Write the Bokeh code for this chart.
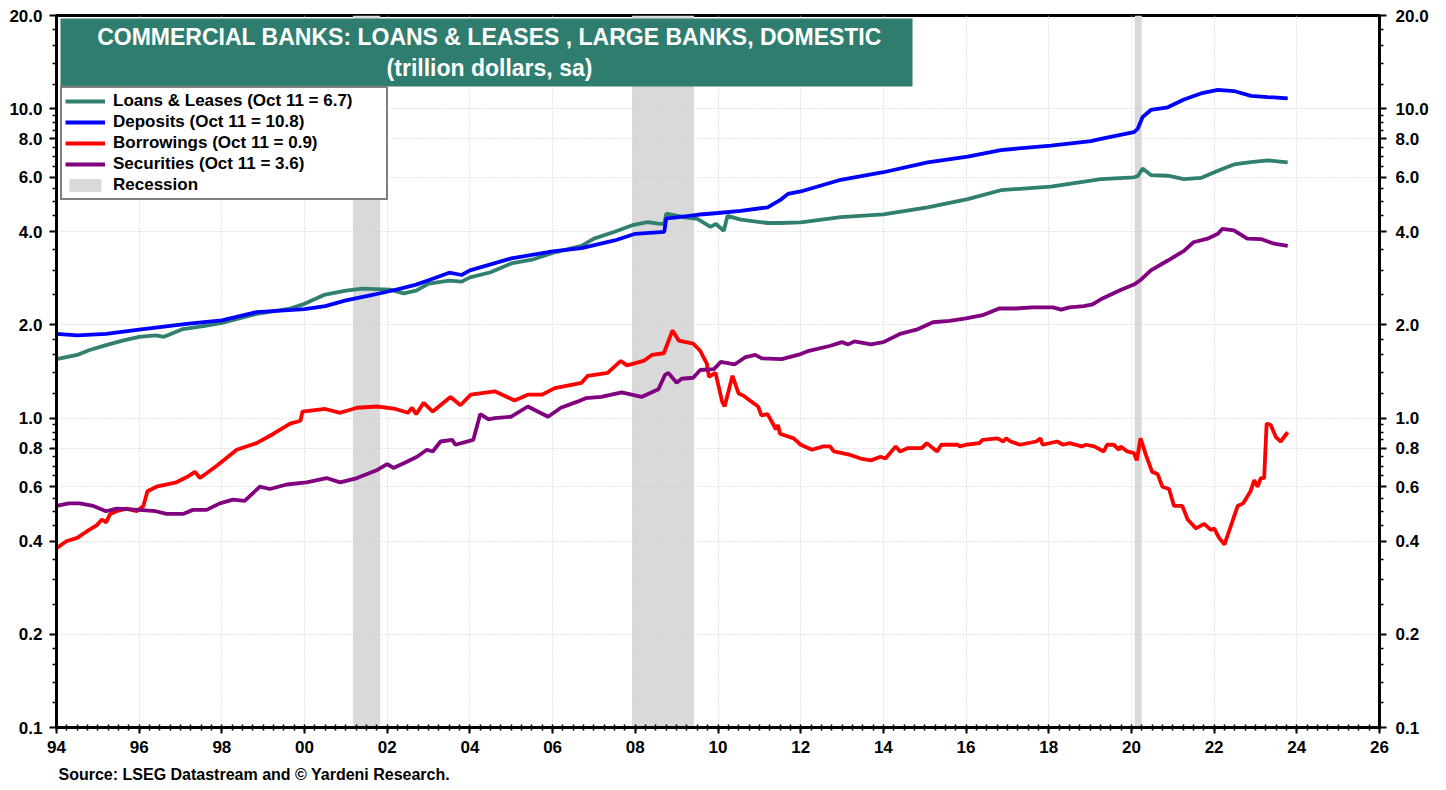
from bokeh.plotting import figure
from bokeh.models import (Range1d, FixedTicker, LogAxis, PrintfTickFormatter, Legend,
                          LegendItem, BoxAnnotation, Label, Title, ColumnDataSource)
from bokeh.embed import file_html
from bokeh.resources import INLINE

# ---------------- data ----------------
loans_t = [1994.0, 1994.5, 1994.8, 1995.2, 1995.6, 1996.0, 1996.4, 1996.6, 1997.06, 1997.63,
           1998.0, 1998.84, 1999.65, 2000.0, 2000.47, 2001.0, 2001.4, 2002.07, 2002.4, 2002.7,
           2003.0, 2003.5, 2003.8, 2004.0, 2004.5, 2005.0, 2005.5, 2006.0, 2006.7, 2007.0,
           2007.5, 2007.93, 2008.3, 2008.55, 2008.7, 2008.75, 2009.2, 2009.5, 2009.82, 2009.95,
           2010.14, 2010.23, 2010.55, 2011.2, 2011.5, 2012.0, 2012.97, 2014.0, 2015.07, 2016.04,
           2016.84, 2018.05, 2019.02, 2019.26, 2020.06, 2020.15, 2020.27, 2020.47, 2020.88,
           2021.27, 2021.68, 2022.09, 2022.48, 2022.89, 2023.3, 2023.78]
loans = [1.55, 1.60, 1.66, 1.72, 1.78, 1.83, 1.85, 1.83, 1.94, 1.99,
         2.03, 2.17, 2.26, 2.34, 2.50, 2.58, 2.62, 2.60, 2.53, 2.58,
         2.72, 2.78, 2.76, 2.85, 2.96, 3.16, 3.25, 3.42, 3.60, 3.80,
         4.00, 4.20, 4.30, 4.25, 4.24, 4.58, 4.45, 4.40, 4.15, 4.24,
         4.03, 4.50, 4.38, 4.27, 4.27, 4.29, 4.46, 4.55, 4.80, 5.10,
         5.45, 5.60, 5.85, 5.92, 6.00, 6.05, 6.40, 6.10, 6.07,
         5.92, 5.97, 6.30, 6.60, 6.72, 6.80, 6.70]

deposits_t = [1994.0, 1994.5, 1995.2, 1996.0, 1997.2, 1998.0, 1998.84, 2000.0, 2000.5, 2001.0,
              2001.5, 2002.0, 2002.32, 2002.7, 2003.0, 2003.5, 2003.8, 2004.0, 2005.0, 2006.0,
              2006.7, 2007.5, 2008.0, 2008.7, 2008.75, 2009.0, 2009.5, 2010.0, 2010.55, 2011.2,
              2011.5, 2011.69, 2012.0, 2012.97, 2014.0, 2015.07, 2016.04, 2016.84, 2018.05,
              2019.02, 2019.26, 2020.06, 2020.15, 2020.27, 2020.47, 2020.88, 2021.27, 2021.68,
              2022.09, 2022.48, 2022.89, 2023.3, 2023.78]
deposits = [1.87, 1.85, 1.87, 1.93, 2.02, 2.07, 2.20, 2.25, 2.30, 2.40,
            2.48, 2.56, 2.62, 2.70, 2.79, 2.95, 2.90, 3.00, 3.28, 3.46,
            3.54, 3.75, 3.94, 4.00, 4.42, 4.45, 4.54, 4.60, 4.67, 4.80,
            5.06, 5.30, 5.40, 5.89, 6.23, 6.70, 7.00, 7.35, 7.60,
            7.85, 7.98, 8.40, 8.60, 9.40, 9.90, 10.1, 10.7, 11.2,
            11.5, 11.4, 11.0, 10.9, 10.8]

borrow_t = [1994.0, 1994.24, 1994.5, 1994.73, 1994.97, 1995.1, 1995.2, 1995.3, 1995.45, 1995.7,
            1995.94, 1996.1, 1996.2, 1996.42, 1996.9, 1997.2, 1997.35, 1997.47, 1997.87, 1998.36,
            1998.84, 1999.25, 1999.65, 1999.9, 1999.95, 2000.5, 2000.86, 2001.27, 2001.76, 2002.2,
            2002.5, 2002.6, 2002.7, 2002.88, 2003.1, 2003.53, 2003.77, 2004.02, 2004.6, 2005.08,
            2005.4, 2005.74, 2005.9, 2006.05, 2006.7, 2006.85, 2007.33, 2007.65, 2007.8, 2008.2,
            2008.4, 2008.69, 2008.9, 2009.05, 2009.4, 2009.57, 2009.73, 2009.78, 2009.94, 2010.1,
            2010.16, 2010.35, 2010.5, 2010.62, 2010.77, 2010.97, 2011.05, 2011.2, 2011.4, 2011.45,
            2011.5, 2011.83, 2012.0, 2012.27, 2012.55, 2012.71, 2012.8, 2013.2, 2013.45, 2013.7,
            2013.93, 2014.05, 2014.3, 2014.4, 2014.6, 2014.93, 2015.05, 2015.3, 2015.4, 2015.8,
            2015.85, 2016.0, 2016.32, 2016.4, 2016.76, 2016.9, 2016.97, 2017.08, 2017.3, 2017.7,
            2017.8, 2017.85, 2018.2, 2018.35, 2018.5, 2018.8, 2018.9, 2019.1, 2019.33, 2019.41,
            2019.57, 2019.7, 2019.74, 2019.9, 2020.06, 2020.13, 2020.22, 2020.35, 2020.5, 2020.63,
            2020.75, 2020.91, 2021.03, 2021.23, 2021.36, 2021.56, 2021.76, 2021.92, 2022.0, 2022.12,
            2022.25, 2022.57, 2022.7, 2022.88, 2022.97, 2023.05, 2023.13, 2023.21, 2023.27, 2023.37,
            2023.49, 2023.61, 2023.78]
borrowings = [0.38, 0.40, 0.41, 0.43, 0.45, 0.47, 0.46, 0.49, 0.50, 0.51,
              0.50, 0.52, 0.58, 0.60, 0.62, 0.65, 0.67, 0.64, 0.70, 0.79,
              0.83, 0.89, 0.96, 0.98, 1.05, 1.07, 1.04, 1.08, 1.09, 1.07,
              1.04, 1.08, 1.03, 1.12, 1.05, 1.17, 1.10, 1.19, 1.22, 1.14,
              1.19, 1.19, 1.22, 1.25, 1.30, 1.37, 1.40, 1.53, 1.48, 1.53,
              1.60, 1.62, 1.92, 1.78, 1.74, 1.65, 1.50, 1.36, 1.40, 1.13,
              1.09, 1.37, 1.20, 1.18, 1.14, 1.09, 1.02, 1.03, 0.92, 0.95,
              0.89, 0.86, 0.82, 0.79, 0.81, 0.81, 0.78, 0.76, 0.74, 0.73,
              0.75, 0.74, 0.81, 0.78, 0.80, 0.80, 0.83, 0.78, 0.82, 0.82,
              0.81, 0.82, 0.83, 0.85, 0.86, 0.84, 0.86, 0.84, 0.82, 0.84,
              0.86, 0.82, 0.84, 0.82, 0.83, 0.81, 0.82, 0.81, 0.78, 0.82,
              0.82, 0.79, 0.81, 0.78, 0.77, 0.73, 0.86, 0.76, 0.67, 0.66,
              0.60, 0.59, 0.52, 0.52, 0.47, 0.44, 0.455, 0.435, 0.44, 0.41,
              0.39, 0.52, 0.53, 0.58, 0.63, 0.60, 0.64, 0.64, 0.96, 0.95,
              0.87, 0.84, 0.90]

secur_t = [1994.0, 1994.3, 1994.56, 1994.89, 1995.2, 1995.45, 1996.0, 1996.4, 1996.66, 1997.06,
           1997.3, 1997.63, 1997.95, 1998.27, 1998.55, 1998.92, 1999.16, 1999.57, 2000.05, 2000.53,
           2000.86, 2001.27, 2001.76, 2002.0, 2002.15, 2002.45, 2002.72, 2002.96, 2003.1, 2003.29,
           2003.57, 2003.65, 2004.08, 2004.25, 2004.45, 2004.6, 2005.0, 2005.4, 2005.89, 2006.2,
           2006.6, 2006.8, 2007.18, 2007.67, 2008.15, 2008.56, 2008.72, 2008.8, 2009.0, 2009.12,
           2009.4, 2009.57, 2009.9, 2010.07, 2010.4, 2010.65, 2010.9, 2011.06, 2011.54, 2012.0,
           2012.2, 2012.7, 2013.0, 2013.15, 2013.3, 2013.7, 2014.0, 2014.4, 2014.8, 2015.2,
           2015.6, 2016.0, 2016.4, 2016.8, 2017.2, 2017.6, 2018.1, 2018.3, 2018.5, 2018.85,
           2019.06, 2019.26, 2019.75, 2020.06, 2020.23, 2020.47, 2020.88, 2021.27, 2021.5, 2021.84,
           2022.09, 2022.2, 2022.48, 2022.8, 2023.13, 2023.45, 2023.78]
securities = [0.52, 0.53, 0.53, 0.52, 0.50, 0.51, 0.505, 0.50, 0.49, 0.49,
              0.505, 0.505, 0.53, 0.545, 0.54, 0.60, 0.59, 0.61, 0.62, 0.64,
              0.62, 0.64, 0.68, 0.71, 0.69, 0.72, 0.75, 0.79, 0.78, 0.84,
              0.85, 0.82, 0.85, 1.03, 0.99, 1.00, 1.01, 1.09, 1.01, 1.08,
              1.13, 1.16, 1.17, 1.21, 1.17, 1.24, 1.38, 1.40, 1.30, 1.34,
              1.35, 1.43, 1.44, 1.52, 1.49, 1.57, 1.60, 1.56, 1.55, 1.61,
              1.65, 1.71, 1.76, 1.73, 1.77, 1.73, 1.76, 1.87, 1.93, 2.04,
              2.06, 2.10, 2.15, 2.26, 2.26, 2.28, 2.28, 2.24, 2.28, 2.30,
              2.33, 2.42, 2.60, 2.70, 2.80, 3.00, 3.23, 3.47, 3.70, 3.80,
              3.94, 4.09, 4.04, 3.80, 3.79, 3.66, 3.60]

rec_start = [2001.17, 2007.92, 2020.08]
rec_end = [2001.83, 2009.42, 2020.25]

x_ticks = list(range(1994, 2027, 2))
x_tick_labels = ["94", "96", "98", "00", "02", "04", "06", "08", "10", "12", "14",
                 "16", "18", "20", "22", "24", "26"]
y_major = [0.1, 0.2, 0.4, 0.6, 0.8, 1.0, 2.0, 4.0, 6.0, 8.0, 10.0, 20.0]
y_minor = [0.12, 0.14, 0.16, 0.18, 0.25, 0.3, 0.35, 0.45, 0.5, 0.55, 0.65, 0.7, 0.75,
           0.85, 0.9, 0.95, 1.2, 1.4, 1.6, 1.8, 2.5, 3.0, 3.5, 4.5, 5.0, 5.5, 6.5, 7.0,
           7.5, 8.5, 9.0, 9.5, 12, 14, 16, 18]

legend_labels = ["Loans & Leases (Oct 11 = 6.7)", "Deposits (Oct 11 = 10.8)",
                 "Borrowings (Oct 11 = 0.9)", "Securities (Oct 11 = 3.6)", "Recession"]
title_line1 = "COMMERCIAL BANKS: LOANS & LEASES , LARGE BANKS, DOMESTIC"
title_line2 = "(trillion dollars, sa)"
source_text = "Source: LSEG Datastream and \u00a9 Yardeni Research."

# ---------------- styles ----------------
FONT = "Liberation Sans"
TEAL = "#2F7D6F"
C_LOANS = "#31806F"
C_DEP = "#0000FF"
C_BOR = "#FF0000"
C_SEC = "#800080"
REC = "#D9D9D9"

p = figure(frame_width=1323, frame_height=712, y_axis_type="log",
           x_range=Range1d(1994, 2026), y_range=Range1d(0.1, 20),
           output_backend="svg", toolbar_location=None,
           min_border_left=56, min_border_right=52, min_border_top=15, min_border_bottom=60,
           background_fill_color="white", border_fill_color="white")

p.outline_line_color = "black"
p.outline_line_width = 3

# recessions
rec_src = ColumnDataSource(dict(left=rec_start, right=rec_end,
                                bottom=[y_major[0]] * len(rec_start),
                                top=[y_major[-1]] * len(rec_start)))
r_rec = p.quad(left="left", right="right", bottom="bottom", top="top", source=rec_src,
               fill_color=REC, line_color=None, level="underlay")

# series
lw = 3.8
r_loans = p.line(loans_t, loans, line_color=C_LOANS, line_width=lw)
r_dep = p.line(deposits_t, deposits, line_color=C_DEP, line_width=lw)
r_bor = p.line(borrow_t, borrowings, line_color=C_BOR, line_width=lw)
r_sec = p.line(secur_t, securities, line_color=C_SEC, line_width=lw)

# axes
xticker = FixedTicker(ticks=x_ticks, minor_ticks=[1994 + 0.25 * i for i in range(129)])
yticker = FixedTicker(ticks=y_major, minor_ticks=y_minor)

xa = p.xaxis[0]
xa.ticker = xticker
xa.major_label_overrides = {t: l for t, l in zip(x_ticks, x_tick_labels)}
ya = p.yaxis[0]
ya.ticker = yticker
ya.formatter = PrintfTickFormatter(format="%.1f")

ra = LogAxis(ticker=yticker, formatter=PrintfTickFormatter(format="%.1f"))
p.add_layout(ra, "right")

for ax in [xa, ya, ra]:
    ax.axis_line_color = "black"
    ax.axis_line_width = 3
    ax.major_tick_line_color = "black"
    ax.major_tick_line_width = 2
    ax.minor_tick_line_color = "black"
    ax.minor_tick_line_width = 1.5
    ax.major_tick_in = 0
    ax.major_tick_out = 7
    ax.minor_tick_in = 0
    ax.minor_tick_out = 4
    ax.major_label_text_font = FONT
    ax.major_label_text_font_style = "bold"
    ax.major_label_text_font_size = "17px"
    ax.major_label_text_color = "black"

xa.major_tick_out = 6
xa.minor_tick_in = 3
xa.minor_tick_out = 3
xa.major_label_standoff = 7
ya.major_label_standoff = 7
ra.major_label_standoff = 9

# grid
p.xgrid.ticker = FixedTicker(ticks=x_ticks)
p.ygrid.ticker = FixedTicker(ticks=y_major)
for g in [p.xgrid, p.ygrid]:
    g.grid_line_color = "#CDCDCD"
    g.grid_line_dash = "1 2"
    g.grid_line_width = 1

# title box
box = BoxAnnotation(left=4, right=856, top=709, bottom=641,
                    left_units="screen", right_units="screen",
                    top_units="screen", bottom_units="screen",
                    fill_color=TEAL, fill_alpha=1.0, line_color=None)
p.add_layout(box)
p.add_layout(Label(x=433, y=691, x_units="screen", y_units="screen", text=title_line1,
                   text_align="center", text_baseline="middle", text_color="white",
                   text_font=FONT, text_font_style="bold", text_font_size="23px"))
p.add_layout(Label(x=433, y=660, x_units="screen", y_units="screen", text=title_line2,
                   text_align="center", text_baseline="middle", text_color="white",
                   text_font=FONT, text_font_style="bold", text_font_size="23px"))

# legend
legend = Legend(items=[LegendItem(label=legend_labels[0], renderers=[r_loans]),
                       LegendItem(label=legend_labels[1], renderers=[r_dep]),
                       LegendItem(label=legend_labels[2], renderers=[r_bor]),
                       LegendItem(label=legend_labels[3], renderers=[r_sec]),
                       LegendItem(label=legend_labels[4], renderers=[r_rec])],
                location=(4, 527))
legend.label_text_font = FONT
legend.label_text_font_style = "bold"
legend.label_text_font_size = "17px"
legend.label_text_color = "black"
legend.label_text_line_height = 1.1
legend.label_standoff = 8
legend.label_height = 19
legend.label_width = 270
legend.glyph_width = 40
legend.glyph_height = 16
legend.spacing = 1
legend.padding = 3
legend.margin = 0
legend.border_line_color = "black"
legend.border_line_width = 2
legend.background_fill_color = "white"
legend.background_fill_alpha = 1.0
p.add_layout(legend)

# source
src_title = Title(text=source_text, align="left", text_font=FONT, text_font_style="bold",
                  text_font_size="16px", text_color="black", standoff=17, offset=2)
p.add_layout(src_title, "below")

open("out.html", "w").write(file_html(p, INLINE))
